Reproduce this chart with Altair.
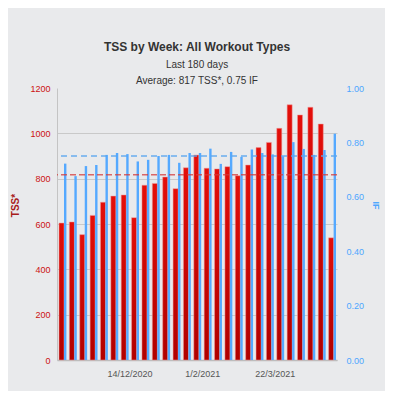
import altair as alt
import pandas as pd

# ---- data ----
week_starts = [
    "2020-10-26", "2020-11-02", "2020-11-09", "2020-11-16", "2020-11-23",
    "2020-11-30", "2020-12-07", "2020-12-14", "2020-12-21", "2020-12-28",
    "2021-01-04", "2021-01-11", "2021-01-18", "2021-01-25", "2021-02-01",
    "2021-02-08", "2021-02-15", "2021-02-22", "2021-03-01", "2021-03-08",
    "2021-03-15", "2021-03-22", "2021-03-29", "2021-04-05", "2021-04-12",
    "2021-04-19", "2021-04-26",
]
tss = [604, 609, 553, 638, 696, 723, 728, 628, 771, 779, 807, 756, 848, 904,
       846, 843, 853, 813, 860, 937, 960, 1022, 1126, 1081, 1115, 1041, 539]
intensity = [0.722, 0.676, 0.713, 0.717, 0.754, 0.761, 0.757, 0.730, 0.736,
             0.750, 0.754, 0.725, 0.761, 0.761, 0.777, 0.721, 0.765, 0.747,
             0.774, 0.761, 0.756, 0.749, 0.801, 0.776, 0.754, 0.772, 0.832]
avg_tss = 817
avg_if = 0.75
tick_dates = ["2020-12-14", "2021-02-01", "2021-03-22"]
x_domain = ["2020-10-26", "2021-05-03"]
tss_ticks = [0, 200, 400, 600, 800, 1000, 1200]
if_ticks = [0.0, 0.2, 0.4, 0.6, 0.8, 1.0]

df = pd.DataFrame({
    "week": [w + "T00:00:00" for w in week_starts],
    "tss": tss,
    "intensity": intensity,
})
avg_df = pd.DataFrame({"avg_tss": [avg_tss], "avg_if": [avg_if]})


def dt(s):
    y, m, d = map(int, s.split("-"))
    return alt.DateTime(year=y, month=m, date=d)


FONT = "Liberation Sans"

x_enc = alt.X(
    "week:T",
    scale=alt.Scale(domain=[dt(s) for s in x_domain], nice=False, padding=0),
    axis=alt.Axis(
        values=[dt(s) for s in tick_dates], format="%-d/%-m/%Y", title=None,
        grid=False, ticks=False, labelColor="#555555", labelFont=FONT,
        labelFontSize=9, labelPadding=9, domainColor="#bdbdbd", domainWidth=1.5,
        labelFlush=False, labelOverlap=False,
    ),
)

tss_scale = alt.Scale(domain=[0, 1200], nice=False)
if_scale = alt.Scale(domain=[0, 1], nice=False)

left_axis = alt.Axis(
    title="TSS*", values=tss_ticks, format="d", labelColor="#cc1111", labelFont=FONT,
    labelFontSize=9, labelPadding=7, ticks=False, domainColor="#c4c4c4",
    gridColor="#c9c9c9",
    gridOpacity={"condition": {"test": "datum.value >= 1200", "value": 0}, "value": 1},
    titleColor="#a81c1c", titleFont=FONT, titleFontSize=10, titleFontWeight="bold",
    titleX=-42, titleY=117, titleAngle=-90, titleBaseline="middle", titleAlign="center",
)
right_axis = alt.Axis(
    title="IF", orient="right", values=if_ticks, format=".2f",
    labelColor="#4da6ff", labelFont=FONT, labelFontSize=9, labelPadding=9,
    ticks=False, domain=False, grid=False,
    titleColor="#4da6ff", titleFont=FONT, titleFontSize=9, titleFontWeight="bold",
    titleX=38, titleY=117, titleAngle=90, titleBaseline="middle", titleAlign="center",
)

red_grad = alt.Gradient(
    gradient="linear", x1=0, y1=0, x2=0, y2=1,
    stops=[alt.GradientStop(color="#e40f0a", offset=0),
           alt.GradientStop(color="#b00000", offset=1)],
)

red_bars = alt.Chart(df).mark_bar(
    width=5, xOffset=4.5, color=red_grad, stroke="#f29a9a",
    strokeWidth=1, strokeOpacity=0.5,
).encode(x=x_enc, y=alt.Y("tss:Q", scale=tss_scale, axis=left_axis))

blue_bars = alt.Chart(df).mark_bar(
    width=2.4, xOffset=8.2, color="#55a9ff",
).encode(x=x_enc, y=alt.Y("intensity:Q", scale=if_scale, axis=right_axis))

red_rule = alt.Chart(avg_df).mark_rule(
    color="#d43a3a", strokeDash=[6, 3], strokeWidth=1.6, opacity=0.75,
).encode(y=alt.Y("avg_tss:Q", scale=tss_scale, axis=None))

blue_rule = alt.Chart(avg_df).mark_rule(
    color="#5aa6f0", strokeDash=[6, 4], strokeWidth=1.6, opacity=0.9,
).encode(y=alt.Y("avg_if:Q", scale=if_scale, axis=None))

chart = alt.layer(red_bars, blue_bars, red_rule, blue_rule).resolve_scale(
    y="independent"
).properties(
    width=280,
    height=272,
    title=alt.TitleParams(
        text="TSS by Week: All Workout Types",
        subtitle=["Last 180 days", f"Average: {avg_tss} TSS*, {avg_if:.2f} IF"],
        font=FONT, fontSize=12, fontWeight="bold", color="#333333",
        subtitleFont=FONT, subtitleFontSize=10, subtitleColor="#333333",
        subtitleLineHeight=16, subtitlePadding=6, anchor="middle", offset=-3,
    ),
    background="#e9eaec",
    padding={"left": 49, "top": 80, "right": 48, "bottom": 31},
    autosize=alt.AutoSizeParams(type="none"),
).configure_view(strokeWidth=0)

chart.save("out.html", embed_options={"renderer": "svg", "actions": False})
